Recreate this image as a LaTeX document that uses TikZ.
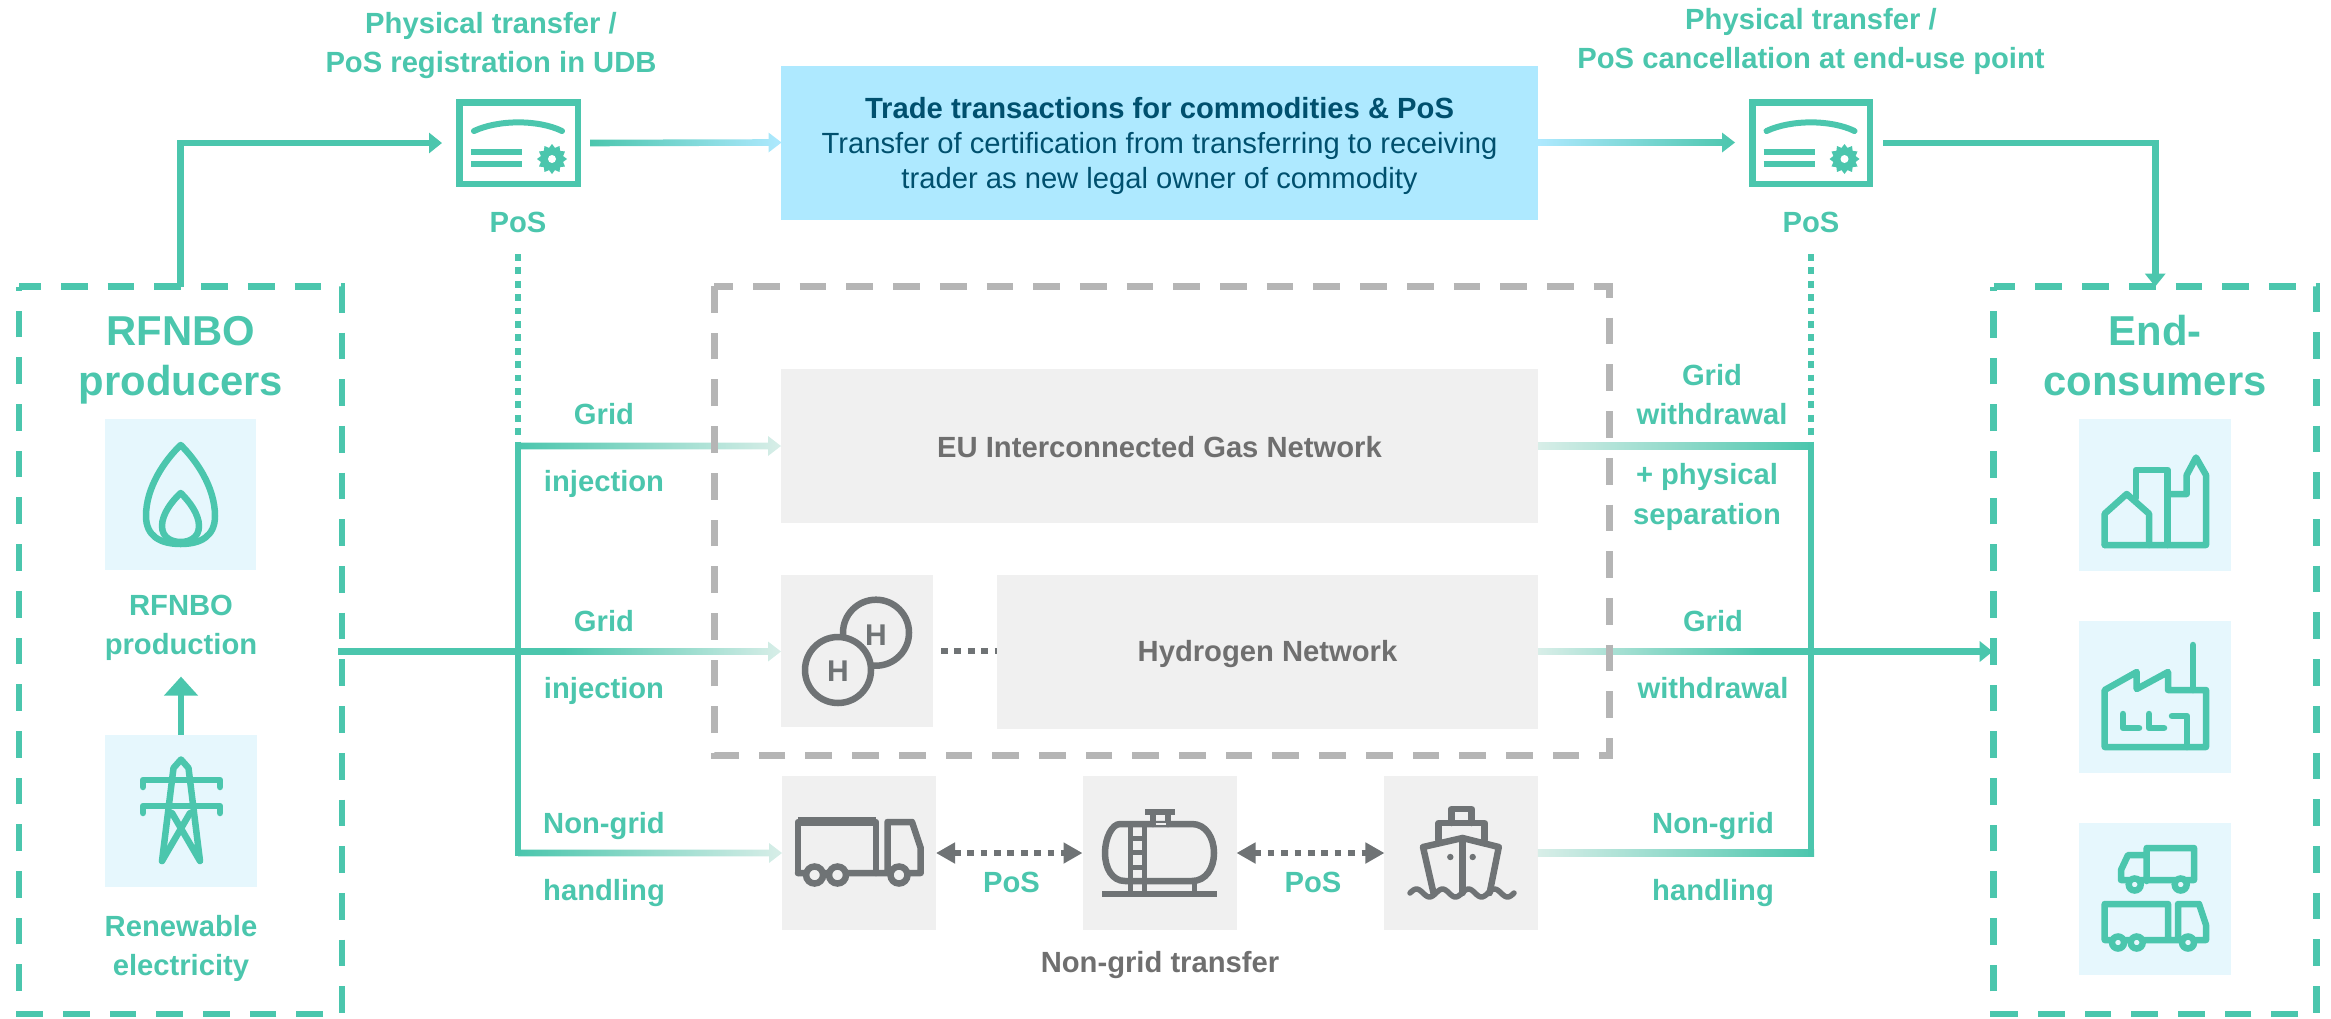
\documentclass[tikz,border=0pt]{standalone}
\usepackage{fontspec}
\setmainfont{Liberation Sans}
\usetikzlibrary{arrows.meta,calc}
\definecolor{tealc}{HTML}{4BC6AD}
\definecolor{paleend}{HTML}{D8EEE8}
\definecolor{bluebox}{HTML}{AEE9FF}
\definecolor{lightb}{HTML}{E6F7FD}
\definecolor{grayb}{HTML}{F0F0F0}
\definecolor{grayi}{HTML}{6F7375}
\definecolor{grayt}{HTML}{6F6F6F}
\definecolor{grayd}{HTML}{B5B5B5}
\definecolor{navyt}{HTML}{00506E}
\tikzset{
  frame/.style={inner sep=0pt,outer sep=0pt},
  lbl/.style={inner sep=0pt,outer sep=0pt,text=tealc,font=\fontsize{29.2}{39.5}\selectfont\bfseries,align=center,anchor=base},
  head/.style={inner sep=0pt,outer sep=0pt,text=tealc,font=\fontsize{41.8}{50}\selectfont\bfseries,align=center,anchor=base},
  gtxt/.style={inner sep=0pt,outer sep=0pt,text=grayt,font=\fontsize{29.2}{39}\selectfont\bfseries,align=center,anchor=base},
  dashteal/.style={draw=tealc,line width=6.5pt,dash pattern=on 26.7pt off 20pt},
  dashgray/.style={draw=grayd,line width=7pt,dash pattern=on 26.7pt off 20pt,dash phase=7.7pt},
  conn/.style={draw=tealc,line width=6.6pt},
  tealarrow/.style={conn,-{Triangle[width=20pt,length=13pt]}},
  dotteal/.style={draw=tealc,line width=6.7pt,dash pattern=on 6.7pt off 6.7pt},
  dotgray/.style={draw=grayi,line width=6.7pt,dash pattern=on 6.7pt off 6.7pt},
  icont/.style={draw=tealc,line width=6.5pt,line join=round,line cap=round},
  icong/.style={draw=grayi,line width=6.5pt,line join=round,line cap=round},
  certpic/.pic={
    \draw[tealc,line width=6pt,line cap=round] (-44.5,-12) .. controls (-20,-23.5) and (20,-23.5) .. (43.5,-12);
    \draw[tealc,line width=6pt] (-47.5,9) -- (3.5,9);
    \draw[tealc,line width=6pt] (-47.5,21) -- (3.5,21);
    \begin{scope}[shift={(33.5,16)}]
      \fill[tealc] (0:15) \foreach \a in {0,30,...,330} { -- (\a:15) -- (\a+15:11.5) } -- cycle;
      \fill[white] (0,0) circle (4);
    \end{scope}
  }
}
\newcommand{\gradhead}[4]{%
  \shade[left color=#3,right color=#4] ($(#1)+(0,-3.3)$) -- ($(#2)+(-13,-3.3)$) -- ($(#2)+(-13,-10)$) -- (#2) -- ($(#2)+(-13,10)$) -- ($(#2)+(-13,3.3)$) -- ($(#1)+(0,3.3)$) -- cycle;}
\newcommand{\gradbar}[4]{%
  \shade[left color=#3,right color=#4] ($(#1)+(0,-3.3)$) -- ($(#2)+(0,-3.3)$) -- ($(#2)+(0,3.3)$) -- ($(#1)+(0,3.3)$) -- cycle;}
\begin{document}
\begin{tikzpicture}[x=1pt,y=-1pt]
\useasboundingbox (0,0) rectangle (2331,1018);
% frames (invisible nodes, drawn below)
\node[frame,minimum width=323pt,minimum height=727.4pt] (prod) at (180.5,650.3) {};
\node[frame,minimum width=323pt,minimum height=727.4pt] (cons) at (2155.2,650.3) {};
\node[frame,minimum width=895pt,minimum height=468.6pt] (grid) at (1161.5,520.7) {};
% filled boxes
\node[frame,fill=bluebox,minimum width=757pt,minimum height=154pt] (trade) at (1159.5,143) {};
\node[frame,fill=grayb,minimum width=757pt,minimum height=154pt] (eu) at (1159.5,446) {};
\node[frame,fill=grayb,minimum width=152pt,minimum height=152pt] (hbox) at (857,651) {};
\node[frame,fill=grayb,minimum width=541pt,minimum height=154pt] (hnet) at (1267.5,652) {};
\node[frame,fill=grayb,minimum width=154pt,minimum height=154pt] (truck) at (859,853) {};
\node[frame,fill=grayb,minimum width=154pt,minimum height=154pt] (tank) at (1159.5,853) {};
\node[frame,fill=grayb,minimum width=153.5pt,minimum height=154pt] (ship) at (1461.2,853) {};
\node[frame,fill=lightb,minimum width=151pt,minimum height=151pt] (flamebox) at (180.5,494.5) {};
\node[frame,fill=lightb,minimum width=152pt,minimum height=152.4pt] (pylon) at (181,810.8) {};
\node[frame,fill=lightb,minimum width=152pt,minimum height=152pt] (city) at (2155,495) {};
\node[frame,fill=lightb,minimum width=152pt,minimum height=152pt] (factory) at (2155,697) {};
\node[frame,fill=lightb,minimum width=152pt,minimum height=152pt] (lorries) at (2155,899) {};
% dashed frames
\draw[dashteal,dash phase=4.7pt] (prod.north west) -- (prod.north east) -- (prod.south east) -- (prod.south west) -- cycle;
\draw[dashteal,dash phase=5pt] (cons.north west) -- (cons.north east) -- (cons.south east) -- (cons.south west) -- cycle;
% certificates
\node[draw=tealc,line width=6.5pt,inner sep=0pt,outer sep=3.25pt,minimum width=118.5pt,minimum height=81.5pt] (cert1) at (518.5,143) {};
\pic at (cert1.center) {certpic};
\node[draw=tealc,line width=6.5pt,inner sep=0pt,outer sep=3.25pt,minimum width=117.5pt,minimum height=81.5pt] (cert2) at (1811,143) {};
\pic at (cert2.center) {certpic};
% coordinates
\coordinate (dotL) at (518,254);
\coordinate (jL1) at (518,446);
\coordinate (jL1t) at (518,442.7);
\coordinate (jL2) at (518,651.5);
\coordinate (jL3) at (518,853);
\coordinate (jL3b) at (518,856.3);
\coordinate (dotR) at (1811,254);
\coordinate (jR1) at (1811,446);
\coordinate (jR1t) at (1811,442.7);
\coordinate (jR2) at (1811,651.5);
\coordinate (jR3) at (1814,853);
\coordinate (jR3b) at (1811,856.3);
\coordinate (fadeL) at (563,651.5);
\coordinate (fadeR) at (1762,651.5);
\coordinate (consW) at (1992.7,651.5);
\coordinate (prodE) at (338,651.5);
\coordinate (upTip) at (181,676.6);
% connectors
\draw[tealarrow,shorten >=14pt] (prod.north) |- (cert1.west);
\draw[conn,-{Triangle[width=20pt,length=13pt]}] ($(cert2.east)+(10,0)$) -| (cons.north);
\gradhead{$(cert1.east)+(9,0)$}{$(trade.west)+(0.5,-0.5)$}{tealc}{bluebox}
\gradhead{$(trade.east)+(0,-0.5)$}{$(cert2.west)+(-14,-0.5)$}{bluebox}{tealc}
\draw[dotteal] (dotL) -- (jL1t);
\draw[dotteal] (dotR) -- (jR1t);
\gradhead{jL1}{eu.west}{tealc}{paleend}
\gradhead{fadeL}{$(hbox.west)+(0,0.5)$}{tealc}{paleend}
\gradhead{jL3}{$(truck.west)+(0,0)$}{tealc}{paleend}
\gradbar{eu.east}{jR1}{paleend}{tealc}
\gradbar{$(hnet.east)+(0,-0.5)$}{fadeR}{paleend}{tealc}
\gradbar{$(ship.east)$}{jR3}{paleend}{tealc}
\draw[conn] (prodE) -- (fadeL);
\draw[conn] (jL1t) -- (jL3b);
\draw[conn] (jR1t) -- (jR3b);
\draw[tealarrow] (fadeR) -- (consW);
\draw[conn,-{Triangle[width=33pt,length=19pt]}] (pylon.north) -- (upTip);
\draw[dashgray] (grid.north west) -- (grid.north east) -- (grid.south east) -- (grid.south west) -- cycle;
\draw[dotgray] ($(hbox.east)+(8,0)$) -- (hbox.east -| hnet.west);
\draw[dotgray,{Triangle[width=20pt,length=19pt]}-{Triangle[width=20pt,length=19pt]}] (truck.east) -- (tank.west);
\draw[dotgray,{Triangle[width=20pt,length=19pt]}-{Triangle[width=20pt,length=19pt]}] (tank.east) -- (ship.west);
% texts
\node[head] (tprod) at (181,395) {RFNBO\\producers};
\node[head] (tcons) at (2155,395) {End-\\consumers};
\node[lbl] (tprodn) at (181,654.5) {RFNBO\\production};
\node[lbl] (tren) at (181,975.5) {Renewable\\electricity};
\node[lbl] (ttl) at (491,72.5) {Physical transfer /\\PoS registration in UDB};
\node[lbl] (ttr) at (1811,68.5) {Physical transfer /\\PoS cancellation at end-use point};
\node[lbl] (pos1) at (518,232) {PoS};
\node[lbl] (pos2) at (1811,232) {PoS};
\node[lbl] (g1) at (604,424.4) {Grid};
\node[lbl] (i1) at (604,491.6) {injection};
\node[lbl] (g2) at (604,631) {Grid};
\node[lbl] (i2) at (604,698.5) {injection};
\node[lbl] (n1) at (604,833.5) {Non-grid};
\node[lbl] (h1) at (604,900.5) {handling};
\node[lbl] (w1) at (1712,424.5) {Grid\\withdrawal};
\node[lbl] (s1) at (1707,524) {+ physical\\separation};
\node[lbl] (g3) at (1713,631) {Grid};
\node[lbl] (w2) at (1713,698.5) {withdrawal};
\node[lbl] (n2) at (1713,833.5) {Non-grid};
\node[lbl] (h2) at (1713,900.5) {handling};
\node[lbl] (p3) at (1011.5,892) {PoS};
\node[lbl] (p4) at (1313,892) {PoS};
\node[gtxt] (tnon) at (1160,972.7) {Non-grid transfer};
\node[gtxt] (teu) at (1159.5,457) {EU Interconnected Gas Network};
\node[gtxt] (thn) at (1267.5,661.7) {Hydrogen Network};
\node[inner sep=0pt,text=navyt,align=center,anchor=base,font=\fontsize{29.2}{35}\selectfont] (ttrade) at (1159.5,188) {\textbf{Trade transactions for commodities \& PoS}\\Transfer of certification from transferring to receiving\\trader as new legal owner of commodity};
% flame
\draw[icont] (180.7,445) .. controls (165,460) and (146,487) .. (146,516) .. controls (146,536) and (160,544) .. (180.7,544) .. controls (201,544) and (215,536) .. (215,516) .. controls (215,487) and (196,460) .. (180.7,445) -- cycle;
\draw[icont] (180.7,493) .. controls (172,501) and (162,514) .. (162,526) .. controls (162,538) and (172,542) .. (180.7,542) .. controls (189,542) and (199,538) .. (199,526) .. controls (199,514) and (189,501) .. (180.7,493) -- cycle;
% pylon
\draw[icont] (162,861) -- (173.5,768) -- (181,759.5) -- (188.5,768) -- (200,861) -- (172,813);
\draw[icont] (162,861) -- (190,813);
\draw[icont] (143,787) -- (143,780) -- (220,780) -- (220,787);
\draw[icont] (143,813) -- (143,806) -- (220,806) -- (220,813);
% city
\draw[icont] (2104.7,545) -- (2104.7,513.7) -- (2126.7,494) -- (2149,513.7) -- (2149,545);
\draw[icont] (2136,498) -- (2136,470) -- (2167.7,470) -- (2167.7,545);
\draw[icont] (2167.7,494) -- (2186.7,494) -- (2186.7,475) -- (2196,457.5) -- (2206,475) -- (2206,545) -- (2104.7,545);
% factory
\draw[icont] (2104.7,747) -- (2104.7,690) -- (2136.7,672) -- (2136.7,689) -- (2168,672) -- (2168,690) -- (2206,690) -- (2206,747) -- cycle;
\draw[icont] (2193,645) -- (2193,690);
\draw[icont] (2123,714) -- (2123,728) -- (2139,728);
\draw[icont] (2149,714) -- (2149,728) -- (2164,728);
\draw[icont] (2172,716) -- (2187,716) -- (2187,747);
% lorries
\draw[icont] (2146.7,881) -- (2146.7,848) -- (2194,848) -- (2194,880) -- (2121,880) -- (2121,870) -- (2128,855) -- (2146.7,855);
\foreach \p in {(2134.7,884.5),(2180.7,884.5)} \draw[tealc,fill=lightb,line width=6.5pt] \p circle (6);
\draw[icont] (2168,940) -- (2168,904) -- (2104.7,904) -- (2104.7,940) -- (2206,940) -- (2206,925) -- (2199,904) -- (2178,904) -- (2178,940);
\foreach \p in {(2118,942.5),(2136.7,942.5),(2188,942.5)} \draw[tealc,fill=lightb,line width=6.5pt] \p circle (6);
% hydrogen icon
\draw[grayi,line width=6.5pt] (876,632.7) circle (33);
\draw[grayi,fill=grayb,line width=6.5pt] (838,670) circle (33);
\node[inner sep=0pt,text=grayi,font=\fontsize{30}{30}\selectfont\bfseries] (h2a) at (876,635) {H};
\node[inner sep=0pt,text=grayi,font=\fontsize{30}{30}\selectfont\bfseries] (h2b) at (838,671) {H};
% truck
\draw[icong] (798,873) -- (798,822) -- (876,822) -- (876,873);
\draw[icong] (798,873) -- (920.7,873) -- (920.7,848) -- (912,822) -- (887.5,822) -- (887.5,873);
\draw[grayi,line width=9pt] (798,821) -- (876,821);
\foreach \p in {(814.6,875),(837.5,875),(899,875)} \draw[grayi,fill=grayb,line width=6.5pt] \p circle (8.5);
% tank
\draw[grayi,line width=6.7pt] (1102,894) -- (1217,894);
\draw[icong] (1120,824) -- (1192,824) .. controls (1206,824) and (1214,838) .. (1214,853) .. controls (1214,868) and (1206,881) .. (1192,881) -- (1125,881) .. controls (1112,881) and (1105,868) .. (1105,853) .. controls (1105,838) and (1112,824) .. (1120,824) -- cycle;
\draw[icong] (1153,824) -- (1153,814);
\draw[icong] (1168,824) -- (1168,814);
\draw[grayi,line width=6.7pt] (1145,812) -- (1175,812);
\draw[draw=grayb,line width=2pt] (1155.5,824) -- (1165.5,824);
\draw[grayi,line width=4.5pt] (1130.5,826) -- (1130.5,892);
\draw[grayi,line width=4.5pt] (1144.5,826) -- (1144.5,892);
\foreach \yy in {838,852,867,881} \draw[grayi,line width=5pt] (1130,\yy) -- (1145,\yy);
\draw[grayi,line width=5pt] (1194,881) -- (1194,892);
% ship
\draw[icong] (1451.5,823) -- (1451.5,809) -- (1471.5,809) -- (1471.5,823);
\draw[icong] (1438.6,840) -- (1438.6,823) -- (1484.5,823) -- (1484.5,840);
\draw[icong] (1433.5,893) -- (1423,847) -- (1462.5,838) -- (1498.8,847) -- (1489.6,893);
\draw[icong] (1462.5,838) -- (1462.5,893);
\fill[grayi] (1450.3,857) circle (3.2);
\fill[grayi] (1472.7,857) circle (3.2);
\draw[icong,line width=5.5pt] plot[domain=0:4,samples=60] ({1410+26*\x},{893-4*sin(360*\x)});
\end{tikzpicture}
\end{document}
